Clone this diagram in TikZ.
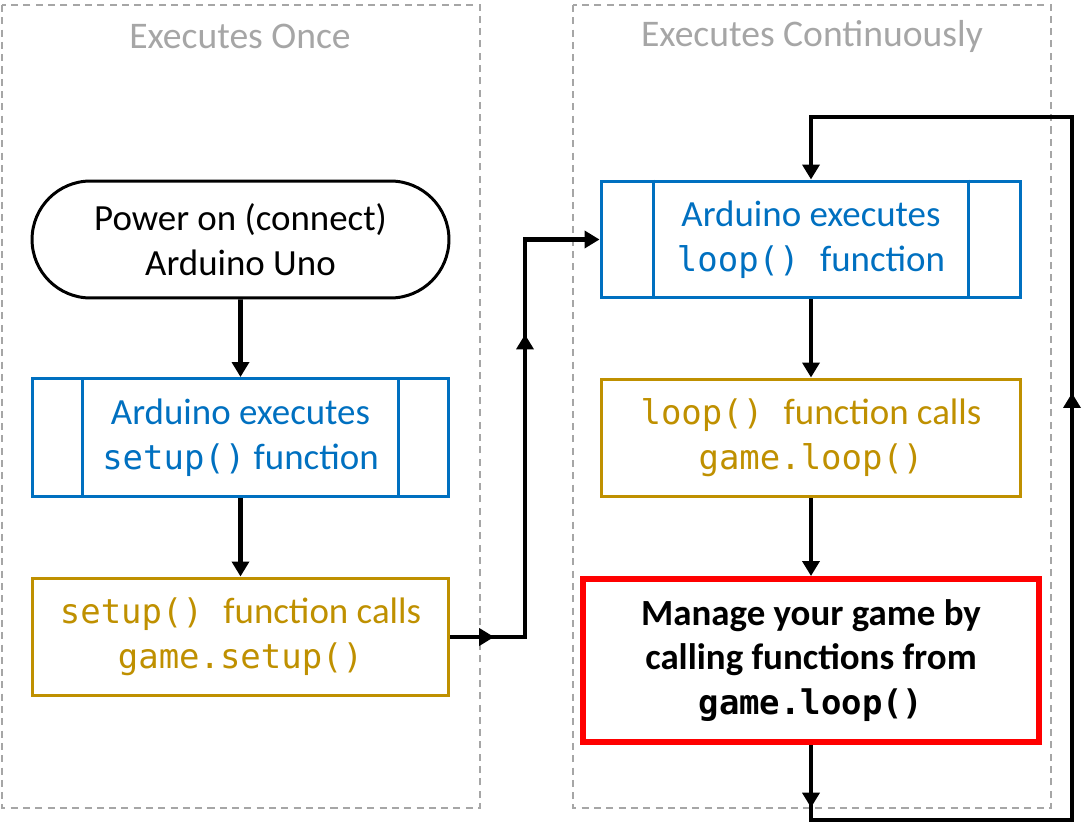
\documentclass[tikz,border=0pt]{standalone}
\usepackage{fontspec}
\setmainfont{Carlito}
\setmonofont{DejaVu Sans Mono}[Scale=0.92]
\usetikzlibrary{arrows.meta,decorations.markings,shapes.misc}

\definecolor{flowblue}{HTML}{0070C0}
\definecolor{flowgold}{HTML}{BF9000}
\definecolor{flowgray}{HTML}{A6A6A6}
\definecolor{flowred}{HTML}{FF0000}

\begin{document}
\begin{tikzpicture}[x=0.02cm, y=-0.02cm,
    region/.style ={draw=flowgray, dashed, line width=0.9pt, dash pattern=on 4pt off 3pt},
    regiontitle/.style ={text=flowgray, font=\fontsize{21.4}{25}\selectfont},
    boxtext/.style ={align=center, inner sep=0pt, font=\fontsize{21}{25.5}\selectfont},
    terminal/.style ={boxtext, rounded rectangle, draw, line width=1.7pt, minimum width=8.34cm, minimum height=2.34cm},
    process/.style ={boxtext, rectangle, draw=flowblue, text=flowblue, line width=1.7pt, minimum width=8.34cm, minimum height=2.36cm},
    call/.style ={boxtext, rectangle, draw=flowgold, text=flowgold, line width=1.7pt, minimum width=8.34cm, minimum height=2.36cm},
    game/.style ={boxtext, rectangle, draw=flowred, line width=3.4pt, minimum width=9.12cm, minimum height=3.26cm, font=\fontsize{21}{25.5}\selectfont\bfseries},
    flow/.style ={line width=2.8pt, -{Triangle[length=8.5pt, width=9.6pt]}},
    link/.style ={line width=2.8pt}]
   \useasboundingbox (0,0) rectangle (1090,828);
   % the two regions
   \draw[region] (2,5) rectangle (480,808);
   \draw[region] (573,5) rectangle (1051,808);
   \node[regiontitle] (once) at (240,36) {Executes Once};
   \node[regiontitle] (cont) at (812,36) {Executes Continuously};
   % executes once
   \node[terminal] (power) at (240.5,239.5) {Power on (connect)\\Arduino Uno};
   \node[process] (setupx) at (240.5,437.5) {Arduino executes\\\texttt{setup()} function};
   \node[call] (setupc) at (240.5,637) {\texttt{setup()~}function calls\\\texttt{game.setup()}};
   \draw[flowblue, line width=1.7pt] ([xshift=1.04cm]setupx.north west) -- ([xshift=1.04cm]setupx.south west);
   \draw[flowblue, line width=1.7pt] ([xshift=-1.04cm]setupx.north east) -- ([xshift=-1.04cm]setupx.south east);
   % executes continuously
   \node[process, minimum width=8.4cm, minimum height=2.34cm] (loopx) at (811,239.5) {Arduino executes\\\texttt{loop()~}function};
   \node[call, minimum width=8.4cm] (loopc) at (811,438) {\texttt{loop()~}function calls\\\texttt{game.loop()}};
   \node[game] (manage) at (811,660.5) {Manage your game by\\calling functions from\\\texttt{game.loop()}};
   \draw[flowblue, line width=1.7pt] ([xshift=1.07cm]loopx.north west) -- ([xshift=1.07cm]loopx.south west);
   \draw[flowblue, line width=1.7pt] ([xshift=-1.07cm]loopx.north east) -- ([xshift=-1.07cm]loopx.south east);
   \coordinate (riseA) at (525,637);
   \coordinate (downB) at (811,820);
   \coordinate (backB) at (1072,117);
   % connectors
   \draw[flow] (power) -- (setupx);
   \draw[flow] (setupx) -- (setupc);
   \draw[flow] (loopx) -- (loopc);
   \draw[flow] (loopc) -- (manage);
   \draw[flow, postaction={decorate}, decoration={markings,
       mark=at position 0.08 with {\arrow{Triangle[length=8.5pt, width=9.6pt]}},
       mark=at position 0.69 with {\arrow{Triangle[length=8.5pt, width=9.6pt]}}}]
     (setupc.east) -- (riseA) |- (loopx.west);
   \draw[flow, postaction={decorate}, decoration={markings,
       mark=at position 0.046 with {\arrow{Triangle[length=8.5pt, width=9.6pt]}},
       mark=at position 0.56 with {\arrow{Triangle[length=8.5pt, width=9.6pt]}}}]
     (manage.south) -- (downB) -| (backB) -| (loopx.north);
 \end{tikzpicture}
\end{document}
